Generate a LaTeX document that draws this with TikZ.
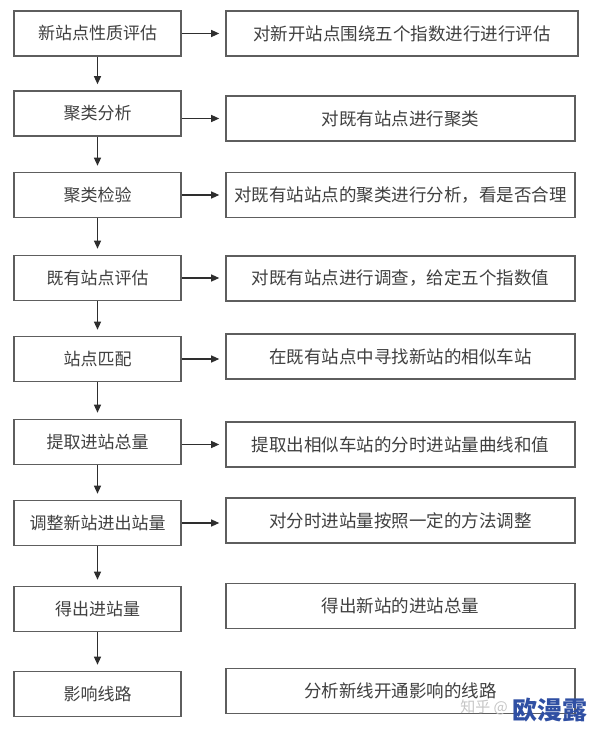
\documentclass[tikz,border=0pt]{standalone}
\usepackage{fontspec}
\setmainfont{Noto Sans CJK SC}
\usetikzlibrary{arrows.meta}
\definecolor{boxline}{HTML}{5E5E5E}
\definecolor{txt}{HTML}{404040}
\definecolor{arrline}{HTML}{2E2E2E}
\definecolor{wmblue}{HTML}{2F4FA3}
\begin{document}
\begin{tikzpicture}[x=1pt,y=-1pt,
  lbox/.style={draw=boxline, line width=1.6pt, minimum width=167pt, minimum height=45pt, inner sep=0pt, text=txt, font=\fontsize{17}{20}\selectfont},
  rbox/.style={draw=boxline, line width=1.6pt, minimum width=349pt, minimum height=45pt, inner sep=0pt, text=txt, font=\fontsize{17.5}{21}\selectfont},
  arr/.style={draw=arrline, line width=1.2pt, -{Triangle[length=8pt,width=7pt]}, shorten >=6pt}
]
\useasboundingbox (0,0) rectangle (594,730);
\fill[white] (0,0) rectangle (594,730);

\node[lbox] (l1) at (97.5,33.5) {新站点性质评估};
\node[lbox] (l2) at (97.5,113.5) {聚类分析};
\node[lbox] (l3) at (97.5,195) {聚类检验};
\node[lbox] (l4) at (97.5,278) {既有站点评估};
\node[lbox] (l5) at (97.5,359) {站点匹配};
\node[lbox] (l6) at (97.5,442) {提取进站总量};
\node[lbox] (l7) at (97.5,523) {调整新站进出站量};
\node[lbox] (l8) at (97.5,609) {得出进站量};
\node[lbox] (l9) at (97.5,694) {影响线路};

\node[rbox, minimum width=352pt] (r1) at (402,33.5) {对新开站点围绕五个指数进行进行评估};
\node[rbox] (r2) at (400.5,118.5) {对既有站点进行聚类};
\node[rbox] (r3) at (400.5,195) {对既有站站点的聚类进行分析，看是否合理};
\node[rbox] (r4) at (400.5,278.5) {对既有站点进行调查，给定五个指数值};
\node[rbox] (r5) at (400.5,356.5) {在既有站点中寻找新站的相似车站};
\node[rbox] (r6) at (400.5,444.5) {提取出相似车站的分时进站量曲线和值};
\node[rbox] (r7) at (400.5,520.5) {对分时进站量按照一定的方法调整};
\node[rbox] (r8) at (400.5,606) {得出新站的进站总量};
\node[rbox] (r9) at (400.5,691) {分析新线开通影响的线路};

\draw[arr] (l1.east) -- (l1.east -| r1.west);
\draw[arr] (r2.west -| l2.east) -- (r2.west);
\draw[arr] (l3.east) -- (l3.east -| r3.west);
\draw[arr] (l4.east) -- (l4.east -| r4.west);
\draw[arr] (l5.east) -- (l5.east -| r5.west);
\draw[arr] (r6.west -| l6.east) -- (r6.west);
\draw[arr] (l7.east) -- (l7.east -| r7.west);

\draw[arr] (l1.south) -- (l2.north);
\draw[arr] (l2.south) -- (l3.north);
\draw[arr] (l3.south) -- (l4.north);
\draw[arr] (l4.south) -- (l5.north);
\draw[arr] (l5.south) -- (l6.north);
\draw[arr] (l6.south) -- (l7.north);
\draw[arr] (l7.south) -- (l8.north);
\draw[arr] (l8.south) -- (l9.north);

\node[text=gray!45, font=\fontsize{15}{17}\selectfont, anchor=east, inner sep=0pt] (wm1) at (508,707) {知乎 @};
\node[text=wmblue, font=\bfseries\fontsize{25}{28}\selectfont, anchor=west, inner sep=0pt] (wm2) at (512,710) {欧漫露};
\end{tikzpicture}
\end{document}
